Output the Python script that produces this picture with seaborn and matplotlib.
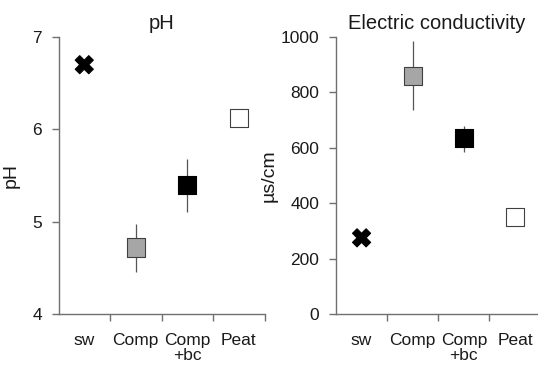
import pandas as pd
import numpy as np
import seaborn as sns
import matplotlib.pyplot as plt
from matplotlib.ticker import FixedLocator

# Data.
sites = ['sw', 'Comp', 'Comp\n+bc', 'Peat']
ph_mean = [6.70, 4.72, 5.40, 6.12]
ph_lo = [6.70, 4.45, 5.10, 6.12]
ph_hi = [6.70, 4.97, 5.68, 6.12]
ec_mean = [275, 860, 635, 350]
ec_lo = [275, 735, 585, 350]
ec_hi = [275, 985, 680, 350]

marker_map = {'sw': 'X', 'Comp': 's', 'Comp\n+bc': 's', 'Peat': 's'}
face_map = {'sw': 'black', 'Comp': '#a6a6a6', 'Comp\n+bc': 'black', 'Peat': 'white'}
edge_cols = ['black', '#404040', 'black', '#404040']

sns.set_style('white')
plt.rcParams['font.family'] = ['Liberation Sans', 'DejaVu Sans']
plt.rcParams['font.size'] = 12.5
text_col = '#1a1a1a'
spine_col = '#707070'

df = pd.DataFrame({'site': sites, 'pH': ph_mean, 'EC': ec_mean})

fig = plt.figure(figsize=(5.38, 3.65), dpi=100)
ax1 = fig.add_axes([58.5 / 538, 1 - 314 / 365, (264.5 - 58.5) / 538, (314 - 37) / 365])
ax2 = fig.add_axes([336 / 538, 1 - 314 / 365, (538 - 336) / 538, (314 - 37) / 365])


def draw_panel(ax, col, lo, hi, ylim, yticks, title, ylabel, xmax):
    pos = np.arange(len(sites))
    ax.vlines(pos, lo, hi, color='#555555', lw=0.9, zorder=1)
    sns.scatterplot(data=df, x='site', y=col, hue='site', style='site',
                    markers=marker_map, palette=face_map, s=170,
                    edgecolor=edge_cols, linewidth=0.8, legend=False, ax=ax, zorder=3)
    ax.set_xlim(-0.5, xmax)
    ax.set_ylim(*ylim)
    ax.set_yticks(yticks)
    ax.set_xticks(pos)
    ax.set_xticklabels(sites, color=text_col, linespacing=1.0)
    ax.tick_params(axis='x', which='major', length=0, pad=14)
    ax.xaxis.set_minor_locator(FixedLocator(pos + 0.5))
    ax.tick_params(axis='x', which='minor', length=5, width=1, direction='out', color=spine_col, bottom=True)
    ax.tick_params(axis='y', length=5, width=1, direction='out', color=spine_col, labelcolor=text_col, left=True, pad=7)
    ax.set_xlabel('')
    ax.set_ylabel(ylabel, color=text_col, fontsize=14)
    ax.set_title(title, color=text_col, fontsize=14.5, pad=6)
    for s in ['top', 'right']:
        ax.spines[s].set_visible(False)
    for s in ['left', 'bottom']:
        ax.spines[s].set_color(spine_col)
        ax.spines[s].set_linewidth(1.0)


draw_panel(ax1, 'pH', ph_lo, ph_hi, (4, 7), [4, 5, 6, 7], 'pH', 'pH', 3.5)
draw_panel(ax2, 'EC', ec_lo, ec_hi, (0, 1000), [0, 200, 400, 600, 800, 1000],
           'Electric conductivity', 'µs/cm', 3.45)
ax1.yaxis.set_label_coords(-0.187, 0.5)
ax2.yaxis.set_label_coords(-0.287, 0.5)

fig.savefig('out.png', dpi=100)
